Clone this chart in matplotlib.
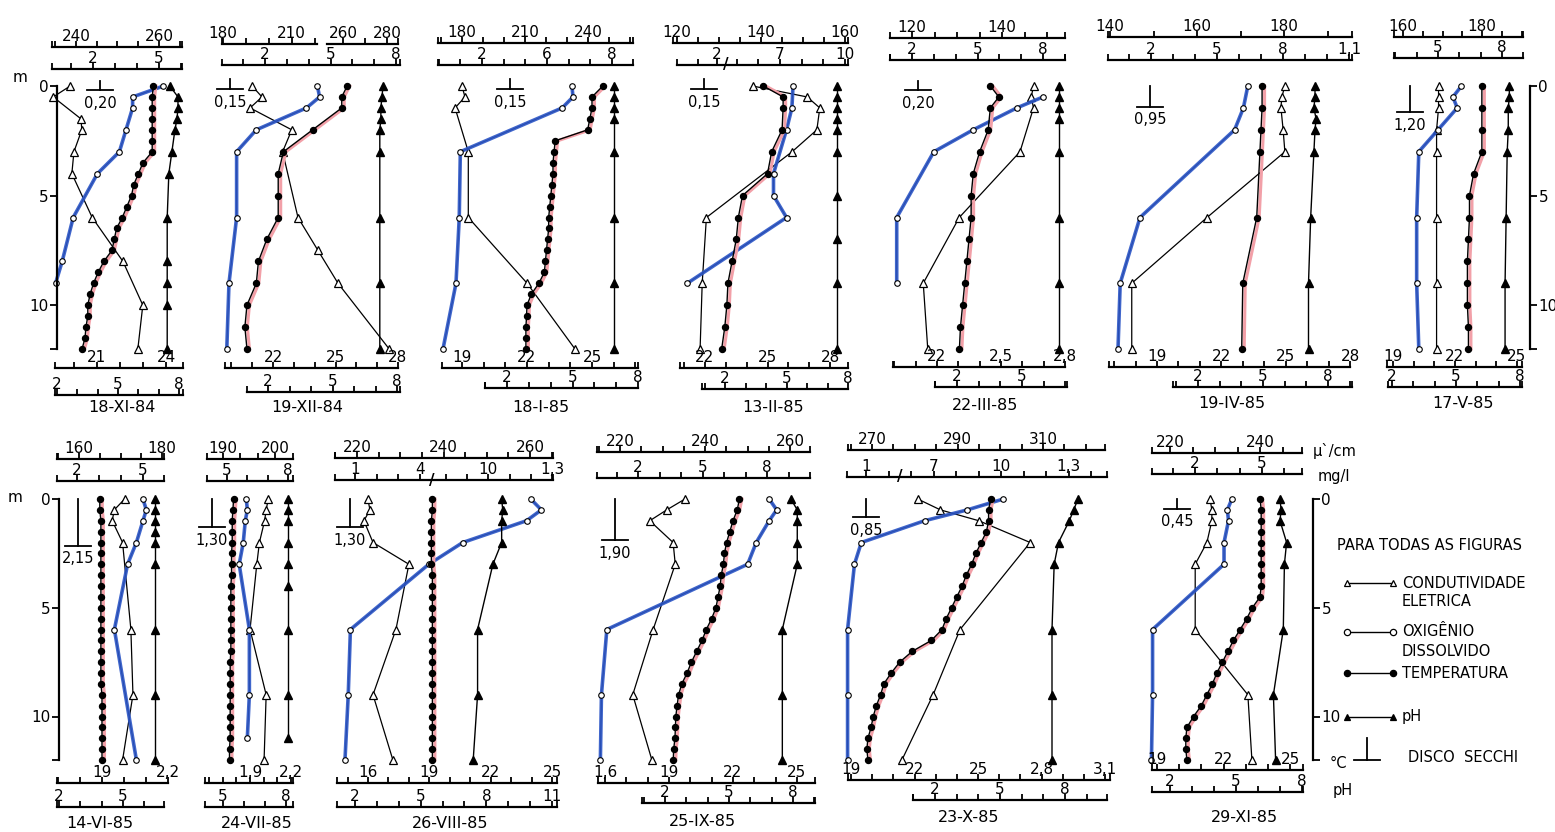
import numpy as np
import matplotlib.pyplot as plt
import matplotlib.transforms as mtransforms
from matplotlib.ticker import FixedLocator, FixedFormatter

plt.rcParams['font.family'] = ['DejaVu Sans']

W, H = 1555, 832
BLUE = '#2b55c6'
PINK = '#f2a0a8'

# profundidades de coleta (m)
D_HALF = [0, 0.5, 1, 1.5, 2, 2.5, 3, 3.5, 4, 4.5, 5, 5.5, 6, 6.5, 7, 7.5, 8, 8.5, 9, 9.5, 10, 10.5, 11, 11.5, 12]
D_14 = [0, 0.5, 1, 2, 3, 4, 5, 6, 7, 8, 9, 10, 11, 12]
D_M = [0, 1, 2, 3, 4, 5, 6, 7, 8, 9, 10, 11, 12]
D_STD = [0, 0.5, 1, 2, 3, 6, 9, 12]

datas = ['18-XI-84', '19-XII-84', '18-I-85', '13-II-85', '22-III-85', '19-IV-85', '17-V-85',
         '14-VI-85', '24-VII-85', '26-VIII-85', '25-IX-85', '23-X-85', '29-XI-85']
secchi = [0.20, 0.15, 0.15, 0.15, 0.20, 0.95, 1.20, 2.15, 1.30, 1.30, 1.90, 0.85, 0.45]
secchi_txt = ['0,20', '0,15', '0,15', '0,15', '0,20', '0,95', '1,20', '2,15', '1,30', '1,30', '1,90', '0,85', '0,45']

# c = condutividade, o = oxigenio, t = temperatura, p = pH
# 18-XI-84
c1_d = [0, 0.5, 1.5, 2, 3, 4, 6, 8, 10, 12]
c1 = [238.6, 234.5, 241.2, 241.4, 239.5, 239.0, 243.9, 251.3, 256.1, 254.9]
o1_d = [0, 0.5, 1, 2, 3, 4, 6, 8, 9]
o1 = [5.2, 3.8, 3.8, 3.5, 3.2, 2.2, 1.1, 0.6, 0.3]
t1 = [23.45, 23.4, 23.4, 23.4, 23.4, 23.4, 23.4, 23.0, 22.8, 22.6, 22.5, 22.3, 22.1, 21.85, 21.75,
      21.65, 21.3, 21.05, 20.85, 20.7, 20.6, 20.6, 20.52, 20.48, 20.35]
p1_d = [0, 0.5, 1, 1.5, 2, 3, 4, 6, 8, 9, 10, 12]
p1 = [7.55, 7.95, 7.95, 7.9, 7.8, 7.65, 7.5, 7.42, 7.42, 7.42, 7.42, 7.42]
# 19-XII-84
c2_d = [0, 0.5, 1, 2, 3, 6, 7.5, 9, 12]
c2 = [192.7, 197, 191.8, 210, 206, 212.7, 224, 257.7, 281]
o2 = [4.4, 4.5, 3.9, 1.6, 0.7, 0.7, 0.35, 0.25]
t2 = [25.56, 25.3, 25.3, 23.9, 22.5, 22.25, 22.25, 22.25, 21.7, 21.3, 21.2, 20.75, 20.65, 20.75]
p2_d = [0, 0.5, 1, 1.5, 2, 3, 6, 9, 12]
p2 = [7.35, 7.3, 7.25, 7.25, 7.2, 7.2, 7.2, 7.2, 7.2]
# 18-I-85
c3_d = [0, 0.5, 1, 3, 6, 9, 12]
c3 = [180, 181.4, 176.7, 183, 183, 211, 233.8]
o3 = [6.15, 6.2, 5.7, 1.0, 0.95, 0.8, 0.2]
t3 = [25.5, 25.0, 25.0, 24.9, 24.8, 23.3, 23.25, 23.2, 23.2, 23.15, 23.1, 23.05, 23.0, 23.0, 22.95,
      22.9, 22.85, 22.8, 22.55, 22.2, 22.0, 21.98, 21.95, 21.95, 21.95]
p3_d = [0, 0.5, 1, 1.5, 3, 6, 9, 12]
p3 = [6.9, 6.9, 6.9, 6.9, 6.9, 6.9, 6.9, 6.9]
# 13-II-85
c4 = [138, 151, 154, 153.3, 147.4, 127, 126, 125.5]
o4_d = [0, 1, 2, 4, 5, 6, 9]
o4 = [7.6, 7.55, 7.3, 6.7, 6.7, 7.3, 0.4]
t4 = [24.8, 25.75, 25.75, 25.7, 25.2, 25.0, 23.8, 23.6, 23.5, 23.3, 23.1, 23.05, 22.95, 22.8]
p4_d = [0, 0.5, 1, 1.5, 2, 3, 5, 7, 9, 12]
p4 = [7.45, 7.45, 7.45, 7.45, 7.45, 7.45, 7.45, 7.45, 7.45, 7.45]
# 22-III-85
c5_d = [0, 0.5, 1, 3, 6, 9, 12]
c5 = [147, 146.5, 147, 144, 130.5, 122.5, 123.5]
o5_d = [0.5, 1, 2, 3, 6, 9]
o5 = [8.0, 6.8, 4.8, 3.0, 1.3, 1.3]
t5 = [24.5, 24.9, 24.5, 24.4, 24.0, 23.7, 23.6, 23.6, 23.5, 23.4, 23.3, 23.2, 23.1, 23.05]
p5_d = [0, 0.5, 1, 1.5, 3, 6, 9, 12]
p5 = [6.7, 6.7, 6.7, 6.7, 6.7, 6.7, 6.7, 6.7]
# 19-IV-85
c6 = [180.2, 179.5, 179.3, 179.8, 180.2, 162.3, 145, 145]
o6_d = [0, 1, 2, 6, 9, 12]
o6 = [6.4, 6.2, 5.8, 1.5, 0.6, 0.5]
t6_d = [0, 1, 2, 3, 6, 9, 12]
t6 = [23.9, 23.9, 23.85, 23.8, 23.65, 23.0, 22.95]
p6_d = [0, 0.5, 1, 1.5, 2, 3, 6, 9, 12]
p6 = [7.4, 7.4, 7.35, 7.45, 7.4, 7.35, 7.2, 7.1, 7.1]
# 17-V-85
c7 = [169, 169, 169, 168.5, 168.5, 168.5, 168.5, 168.5]
o7 = [6.1, 5.7, 5.9, 5.0, 4.1, 4.0, 4.0, 4.1]
t7 = [23.3, 23.3, 23.3, 23.3, 22.9, 22.7, 22.7, 22.65, 22.6, 22.6, 22.6, 22.65, 22.65]
p7 = [7.5, 7.5, 7.45, 7.45, 7.4, 7.35, 7.3, 7.3]
# 14-VI-85
c8_d = [0, 0.5, 1, 2, 6, 9, 12]
c8 = [171, 168.5, 168, 170.5, 172.5, 173, 170.5]
o8_d = [0, 0.5, 1, 2, 3, 6, 12]
o8 = [5.0, 5.15, 5.0, 4.7, 4.3, 3.7, 4.7]
t8 = [18.9, 18.9, 18.95, 18.95, 18.95, 18.95, 18.95, 18.95, 18.95, 18.95, 18.95, 18.95, 18.95,
      18.95, 18.95, 18.95, 18.95, 18.95, 19.0, 19.0, 19.0, 19.0, 19.0, 19.0, 19.0]
p8_d = [0, 0.5, 1, 1.5, 2, 3, 6, 9, 12]
p8 = [6.5, 6.5, 6.5, 6.5, 6.5, 6.5, 6.5, 6.5, 6.5]
# 24-VII-85
c9 = [198.7, 198.3, 198.0, 197, 196.5, 195.2, 198.3, 197.9]
o9_d = [0, 0.5, 1, 2, 3, 6, 9, 11]
o9 = [5.95, 6.0, 5.9, 5.8, 5.6, 6.1, 6.1, 6.0]
t9 = [17.8, 17.75, 17.7, 17.7, 17.7, 17.65, 17.65, 17.65, 17.6, 17.6, 17.6, 17.6, 17.6, 17.6,
      17.6, 17.55, 17.55, 17.55, 17.55, 17.55, 17.55, 17.55, 17.55, 17.5, 17.5]
p9_d = [0, 0.5, 1, 2, 3, 4, 6, 9, 11]
p9 = [8.1, 8.1, 8.1, 8.1, 8.1, 8.1, 8.1, 8.1, 8.1]
# 26-VIII-85
c10 = [222.5, 223, 221.6, 223.7, 232, 229, 223.7, 228.3]
o10 = [12.0, 12.5, 11.8, 8.8, 4.4, 0.8, 0.7, 0.55]
t10 = [19.15, 19.15, 19.1, 19.1, 19.1, 19.1, 19.1, 19.15, 19.15, 19.15, 19.15, 19.15, 19.15,
       19.15, 19.15, 19.15, 19.15, 19.15, 19.15, 19.15, 19.15, 19.15, 19.15, 19.15, 19.15]
p10 = [8.7, 8.75, 8.7, 8.7, 8.3, 7.6, 7.6, 7.4]
# 25-IX-85
c11 = [235.3, 231, 227, 232.5, 233, 227.8, 223, 227.5]
o11 = [8.1, 8.45, 8.1, 7.5, 7.1, 0.55, 0.3, 0.25]
t11 = [22.3, 22.2, 22.0, 21.85, 21.7, 21.6, 21.55, 21.45, 21.4, 21.3, 21.2, 21.0, 20.75, 20.55,
       20.3, 20.05, 19.85, 19.6, 19.45, 19.38, 19.32, 19.3, 19.28, 19.22, 19.2]
p11 = [7.9, 8.2, 8.2, 8.2, 8.2, 7.5, 7.5, 7.5]
# 23-X-85
c12_d = [0, 0.5, 1, 2, 6, 9, 12]
c12 = [280.7, 286, 295, 307, 290.6, 284.3, 277]
o12 = [10.1, 8.5, 6.6, 0.8, 0.5, 0.2, 0.2, 0.2]
t12 = [25.6, 25.5, 25.5, 25.4, 25.15, 24.9, 24.7, 24.45, 24.25, 24.0, 23.75, 23.5, 23.3, 22.8,
       21.9, 21.3, 20.9, 20.55, 20.4, 20.2, 20.05, 19.95, 19.8, 19.75, 19.8]
p12 = [8.6, 8.4, 8.2, 7.7, 7.5, 7.4, 7.4, 7.4]
# 29-XI-85
c13 = [228.9, 229.3, 229.3, 228.2, 225.6, 225.6, 237.3, 238.2]
o13 = [3.65, 3.45, 3.5, 3.3, 3.3, 0.1, 0.1, 0.05]
t13 = [23.65, 23.7, 23.7, 23.7, 23.7, 23.7, 23.7, 23.7, 23.7, 23.65, 23.3, 23.05, 22.75, 22.45,
       22.2, 21.95, 21.7, 21.5, 21.25, 21.0, 20.65, 20.35, 20.3, 20.3, 20.35]
p13 = [7.0, 7.05, 7.0, 7.3, 7.2, 7.15, 6.7, 6.8]

series = [
    (c1_d, c1, o1_d, o1, D_HALF, t1, p1_d, p1),
    (c2_d, c2, D_STD, o2, D_14, t2, p2_d, p2),
    (c3_d, c3, c3_d, o3, D_HALF, t3, p3_d, p3),
    (D_STD, c4, o4_d, o4, D_14, t4, p4_d, p4),
    (c5_d, c5, o5_d, o5, D_14, t5, p5_d, p5),
    (D_STD, c6, o6_d, o6, t6_d, t6, p6_d, p6),
    (D_STD, c7, D_STD, o7, D_M, t7, D_STD, p7),
    (c8_d, c8, o8_d, o8, D_HALF, t8, p8_d, p8),
    (D_STD, c9, o9_d, o9, D_HALF, t9, p9_d, p9),
    (D_STD, c10, D_STD, o10, D_HALF, t10, D_STD, p10),
    (D_STD, c11, D_STD, o11, D_HALF, t11, D_STD, p11),
    (c12_d, c12, D_STD, o12, D_HALF, t12, D_STD, p12),
    (D_STD, c13, D_STD, o13, D_HALF, t13, D_STD, p13),
]

# ---- layout: escalas (valor, px), extensao em px, altura da linha ----
def S(a, ext, y, lab, step=1, **kw):
    d = dict(a=a, ext=ext, y=y, lab=lab, step=step)
    d.update(kw)
    return d

L = lambda *v: {x: str(x) for x in v}

SC = [
    (S([(240, 76), (260, 159)], (52, 182), 47, L(240, 260), 5),
     S([(2, 93), (5, 159)], (52, 182), 69, L(2, 5)),
     S([(21, 97), (24, 166)], (55, 183), 368, L(21, 24)),
     S([(2, 57), (8, 179)], (55, 183), 395, L(2, 5, 8))),
    (S([(180, 223), (221, 317), (252.7, 327), (285, 398)], (222, 398), 44, L(180, 210, 260, 280),
       ticks=[180, 190, 200, 210, 220, 260, 270, 280], gap=(221, 252.7)),
     S([(2, 265), (8, 396)], (222, 400), 65, L(2, 5, 8)),
     S([(22, 273), (28, 398)], (225, 398), 368, L(22, 25, 28)),
     S([(2, 268), (8, 397)], (247, 400), 392, L(2, 5, 8))),
    (S([(180, 462), (240, 588)], (438, 633), 43, L(180, 210, 240), 10),
     S([(2, 482), (8, 612)], (438, 633), 65, {2: '2', 5: '6', 8: '8'}),
     S([(19, 462), (25, 592)], (442, 638), 368, L(19, 22, 25)),
     S([(2, 507), (8, 638)], (485, 638), 388, L(2, 5, 8))),
    (S([(120, 677), (160, 845)], (673, 848), 43, L(120, 140, 160), 5),
     S([(0, 680), (2.4, 724), (4.6, 728), (10, 845)], (677, 848), 65, L(2, 7, 10),
       ticks=[1, 2, 5, 6, 7, 8, 9, 10], brk=3.5),
     S([(22, 705), (28, 830)], (680, 848), 368, L(22, 25, 28)),
     S([(2, 725), (8, 848)], (702, 848), 389, L(2, 5, 8))),
    (S([(120, 912), (140, 1002)], (890, 1065), 38, L(120, 140), 5),
     S([(2, 912), (8, 1043)], (890, 1065), 60, L(2, 5, 8)),
     S([(22, 937), (28, 1065)], (893, 1065), 367, {22: '22', 25: '2,5', 28: '2,8'}),
     S([(2, 957), (5, 1022)], (935, 1067), 387, L(2, 5))),
    (S([(140, 1110), (180, 1284)], (1108, 1352), 37, L(140, 160, 180), 10),
     S([(2, 1151), (11, 1349)], (1108, 1352), 60, {2: '2', 5: '5', 8: '8', 11: '1,1'}),
     S([(19, 1157), (28, 1350)], (1109, 1350), 367, L(19, 22, 25, 28)),
     S([(2, 1198), (8, 1328)], (1173, 1352), 387, L(2, 5, 8))),
    (S([(160, 1403), (180, 1482)], (1394, 1523), 37, L(160, 180), 5),
     S([(5, 1438), (8, 1502)], (1394, 1523), 58, L(5, 8)),
     S([(19, 1393), (25, 1517)], (1387, 1522), 367, L(19, 22, 25)),
     S([(2, 1392), (8, 1520)], (1388, 1522), 387, L(2, 5, 8))),
    (S([(160, 79), (180, 162)], (57, 164), 459, L(160, 180), 5),
     S([(2, 77), (5, 143)], (57, 164), 481, L(2, 5)),
     S([(19, 102), (22, 168)], (57, 168), 783, {19: '19', 22: '2,2'}),
     S([(2, 59), (5, 123)], (57, 164), 807, L(2, 5))),
    (S([(190, 223), (200, 275)], (207, 293), 459, L(190, 200), ticks=[190, 193.333, 196.667, 200]),
     S([(5, 227), (8, 288)], (207, 293), 481, L(5, 8)),
     S([(19, 250), (22, 291)], (205, 293), 783, {19: '1,9', 22: '2,2'}),
     S([(5, 223), (8, 286)], (205, 293), 807, L(5, 8))),
    (S([(220, 357), (260, 530)], (335, 553), 458, L(220, 240, 260), 5),
     S([(0, 333), (4.5, 431), (7.4, 433), (13, 552)], (335, 553), 480,
       {1: '1', 4: '4', 10: '10', 13: '1,3'}, ticks=[1, 2, 3, 4, 8, 9, 10, 11, 12, 13], brk=5.9),
     S([(16, 368), (25, 552)], (337, 557), 783, L(16, 19, 22, 25)),
     S([(2, 355), (11, 552)], (337, 557), 807, L(2, 5, 8, 11))),
    (S([(220, 620), (260, 790)], (597, 810), 452, L(220, 240, 260), 5),
     S([(2, 638), (8, 767)], (597, 810), 478, L(2, 5, 8)),
     S([(16, 605), (25, 797)], (598, 815), 783, {16: '1,6', 19: '19', 22: '22', 25: '25'}),
     S([(2, 665), (8, 793)], (642, 815), 803, L(2, 5, 8))),
    (S([(270, 872), (310, 1043)], (848, 1105), 450, L(270, 290, 310), 5),
     S([(0, 843), (2.4, 898), (5.6, 902), (14.7, 1107)], (847, 1107), 477,
       {1: '1', 7: '7', 10: '10', 13: '1,3'}, ticks=[1, 2, 6, 7, 8, 9, 10, 11, 12, 13, 14], brk=4.0),
     S([(19, 851), (31, 1105)], (848, 1110), 780, {19: '19', 22: '22', 25: '25', 28: '2,8', 31: '3,1'}),
     S([(2, 935), (8, 1065)], (913, 1107), 800, L(2, 5, 8))),
    (S([(220, 1170), (240, 1260)], (1152, 1302), 453, L(220, 240), 5),
     S([(2, 1195), (5, 1262)], (1152, 1302), 474, L(2, 5)),
     S([(19, 1157), (25, 1290)], (1152, 1303), 770, L(19, 22, 25)),
     S([(2, 1170), (8, 1302)], (1152, 1303), 792, L(2, 5, 8))),
]

ROW_Y = [(86, 349), (499, 760)]
ROW_OF = [0] * 7 + [1] * 6
SECCHI_X = [100, 230, 510, 704, 918, 1150, 1410, 78, 212, 350, 615, 866, 1177]
DATE_XY = [(122, 408), (307, 408), (541, 408), (773, 408), (985, 405), (1232, 404), (1463, 404),
           (100, 823), (257, 823), (450, 823), (702, 822), (969, 818), (1244, 818)]

fig = plt.figure(figsize=(W / 100, H / 100), dpi=100)


def pw(anch):
    v = np.array([a[0] for a in anch], float)
    p = np.array([a[1] for a in anch], float)
    s0 = (p[1] - p[0]) / (v[1] - v[0])
    s1 = (p[-1] - p[-2]) / (v[-1] - v[-2])

    def fwd(x):
        x = np.asarray(x, float)
        return np.where(x < v[0], p[0] + (x - v[0]) * s0,
                        np.where(x > v[-1], p[-1] + (x - v[-1]) * s1, np.interp(x, v, p)))

    def inv(y):
        y = np.asarray(y, float)
        return np.where(y < p[0], v[0] + (y - p[0]) / s0,
                        np.where(y > p[-1], v[-1] + (y - p[-1]) / s1, np.interp(y, p, v)))
    return fwd, inv


def scale_axes(sc, row):
    y0, y12 = ROW_Y[row]
    px0, px1 = sc['ext']
    ax = fig.add_axes([px0 / W, 1 - y12 / H, (px1 - px0) / W, (y12 - y0) / H])
    ax.patch.set_visible(False)
    fwd, inv = pw(sc['a'])
    ax.set_xscale('function', functions=(fwd, inv))
    lo, hi = float(inv(px0)), float(inv(px1))
    ax.set_xlim(lo, hi)
    ax.set_ylim(12, 0)
    ax.yaxis.set_visible(False)
    for s in ('left', 'right', 'bottom'):
        ax.spines[s].set_visible(False)
    pos = (y12 - sc['y']) / (y12 - y0)
    sp = ax.spines['top']
    sp.set_position(('axes', pos))
    sp.set_linewidth(1.6)
    ax.xaxis.set_ticks_position('top')
    if 'ticks' in sc:
        tk = list(sc['ticks'])
    else:
        st = sc['step']
        tk = list(np.arange(np.ceil(lo / st) * st, hi + 1e-9, st))
    tk = sorted(set([round(float(t), 6) for t in tk] + [lo, hi]))
    labs = [sc['lab'].get(t, '') for t in tk]
    ax.xaxis.set_major_locator(FixedLocator(tk))
    ax.xaxis.set_major_formatter(FixedFormatter(labs))
    ax.tick_params(axis='x', which='major', direction='out', length=4, width=1.3,
                   pad=-2, labelsize=11, colors='k')
    tr = mtransforms.blended_transform_factory(ax.transData, ax.transAxes)
    if 'gap' in sc:
        g0, g1 = sc['gap']
        sp.set_bounds(lo, g0)
        ax.plot([g1, hi], [pos, pos], color='k', lw=1.6, transform=tr, clip_on=False)
    if 'brk' in sc:
        ax.text(sc['brk'], pos, '/', transform=tr, ha='center', va='center',
                fontsize=11, fontweight='bold')
    return ax


def depth_axis(x, row, side):
    y0, y12 = ROW_Y[row]
    ax = fig.add_axes([x / W, 1 - y12 / H, 0.0001, (y12 - y0) / H])
    ax.patch.set_visible(False)
    ax.set_ylim(12, 0)
    ax.xaxis.set_visible(False)
    for s in ax.spines:
        ax.spines[s].set_visible(s == side)
    ax.spines[side].set_linewidth(1.6)
    ax.yaxis.set_ticks_position(side)
    ax.set_yticks([0, 5, 10, 12])
    ax.set_yticklabels(['0', '5', '10', ''])
    ax.tick_params(axis='y', direction='out', length=5, width=1.3, labelsize=11, pad=1)


row_ax = []
for r in range(2):
    y0, y12 = ROW_Y[r]
    ra = fig.add_axes([0, 1 - y12 / H, 1, (y12 - y0) / H])
    ra.set_xlim(0, W)
    ra.set_ylim(12, 0)
    ra.axis('off')
    row_ax.append(ra)

for i, (cd, cv, od, ov_, td, tv, pd_, pv) in enumerate(series):
    row = ROW_OF[i]
    sc_c, sc_o, sc_t, sc_p = SC[i]

    ax = scale_axes(sc_c, row)
    ax.plot(cv, cd, color='k', lw=0.9, marker='^', ms=5.5, mfc='white', mec='k', mew=0.9,
            clip_on=False, zorder=3)

    ax = scale_axes(sc_o, row)
    ax.plot(ov_, od, color='k', lw=0.8, clip_on=False)
    ax.plot(ov_, od, color=BLUE, lw=2.6, alpha=0.9, solid_capstyle='round', clip_on=False)
    ax.plot(ov_, od, ls='none', marker='o', ms=4, mfc='white', mec='k', mew=0.8, clip_on=False)

    ax = scale_axes(sc_t, row)
    off = mtransforms.offset_copy(ax.transData, fig=fig, x=2.5, y=0, units='dots')
    ax.plot(tv, td, color=PINK, lw=2.2, transform=off, clip_on=False)
    ax.plot(tv, td, color='k', lw=1.0, marker='o', ms=4.3, mfc='k', mec='k', clip_on=False)

    ax = scale_axes(sc_p, row)
    ax.plot(pv, pd_, color='k', lw=1.0, marker='^', ms=6, mfc='k', mec='k', clip_on=False)

    # disco de Secchi
    ra = row_ax[row]
    x, sd = SECCHI_X[i], secchi[i]
    ra.plot([x, x], [min(0, sd - 0.45), sd], color='k', lw=1.3, clip_on=False)
    ra.plot([x - 13, x + 13], [sd, sd], color='k', lw=1.3, clip_on=False)
    ra.annotate(secchi_txt[i], (x, sd), xytext=(0, -4), textcoords='offset points',
                ha='center', va='top', fontsize=10.5)

depth_axis(57, 0, 'left')
depth_axis(1530, 0, 'right')
depth_axis(59, 1, 'left')
depth_axis(1313, 1, 'right')

# textos e legenda em px
ov = fig.add_axes([0, 0, 1, 1])
ov.set_xlim(0, W)
ov.set_ylim(H, 0)
ov.axis('off')

for (x, y), d in zip(DATE_XY, datas):
    ov.text(x, y, d, ha='center', va='center', fontsize=11.5)

ov.text(20, 78, 'm', ha='center', va='center', fontsize=11)
ov.text(15, 497, 'm', ha='center', va='center', fontsize=11)
ov.text(1313, 451, 'μ`/cm', ha='left', va='center', fontsize=10.5)
ov.text(1318, 477, 'mg/l', ha='left', va='center', fontsize=10.5)
ov.text(1330, 764, '°C', ha='left', va='center', fontsize=10.5)
ov.text(1333, 790, 'pH', ha='left', va='center', fontsize=10.5)

ov.text(1337, 545, 'PARA TODAS AS FIGURAS', ha='left', va='center', fontsize=10.5)
leg = [(583, '^', 'white', ['CONDUTIVIDADE', 'ELETRICA']),
       (632, 'o', 'white', ['OXIGÊNIO', 'DISSOLVIDO']),
       (673, 'o', 'k', ['TEMPERATURA']),
       (717, '^', 'k', ['pH'])]
for y, m, fc, lines in leg:
    ov.plot([1347, 1393], [y, y], color='k', lw=1.0, marker=m, ms=4.5, mfc=fc, mec='k', mew=0.9)
    for j, s in enumerate(lines):
        ov.text(1402, y + j * 19, s, ha='left', va='center', fontsize=10.5)
ov.plot([1367, 1367], [738, 760], color='k', lw=1.3)
ov.plot([1354, 1380], [760, 760], color='k', lw=1.3)
ov.text(1408, 757, 'DISCO  SECCHI', ha='left', va='center', fontsize=10.5)

fig.savefig('out.png', dpi=100)
